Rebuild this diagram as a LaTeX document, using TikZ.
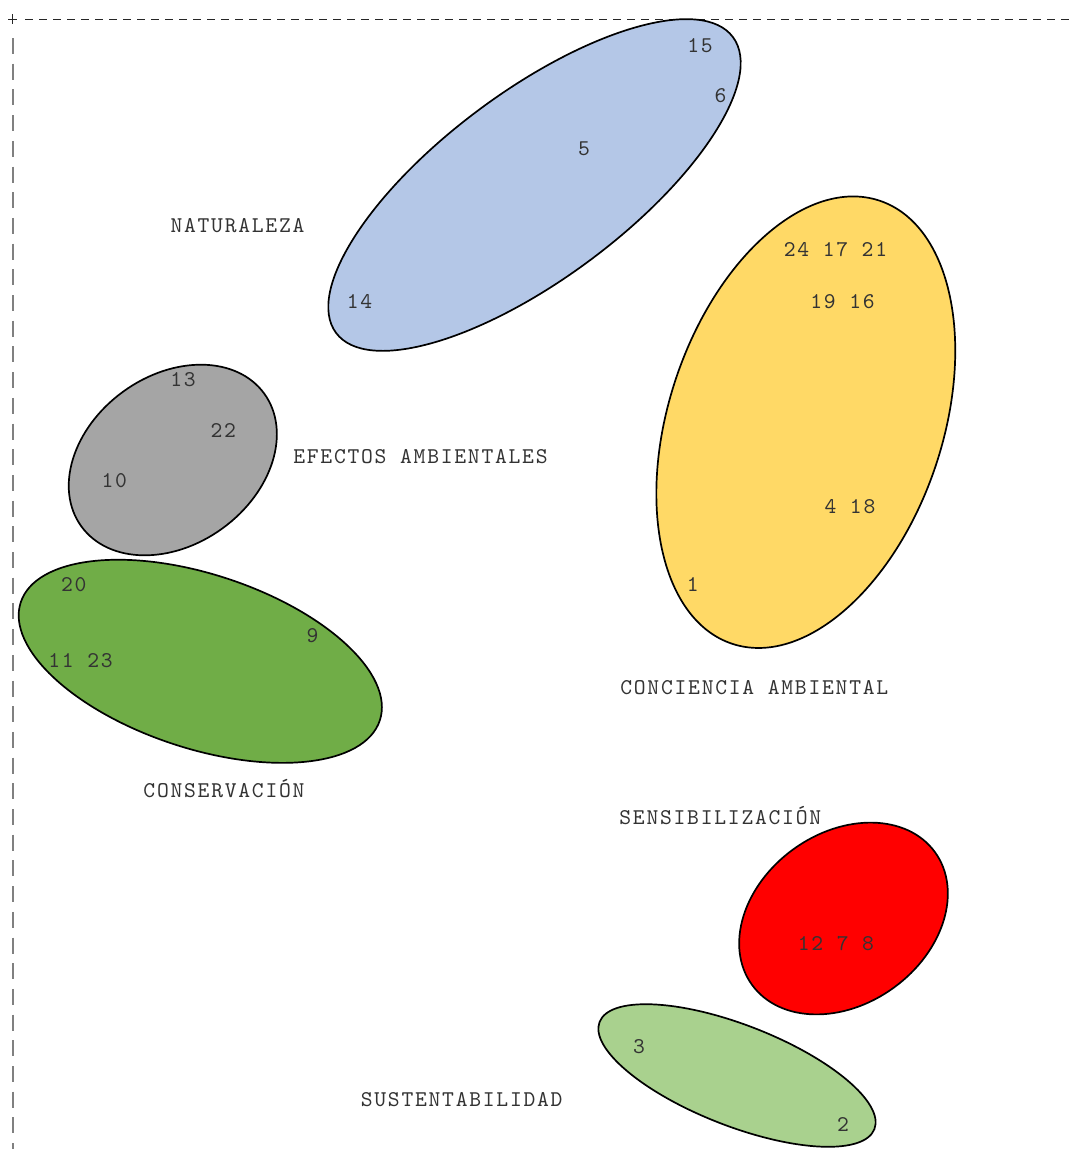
\documentclass[tikz,border=0pt]{standalone}
\usepackage{fontspec}
\usepackage{tikz}
\usetikzlibrary{shapes.geometric}
\definecolor{natblue}{HTML}{B4C7E7}
\definecolor{concyellow}{HTML}{FFD966}
\definecolor{efgray}{HTML}{A5A5A5}
\definecolor{consgreen}{HTML}{70AD47}
\definecolor{sensred}{HTML}{FF0000}
\definecolor{sustgreen}{HTML}{A9D18E}
\definecolor{axisgray}{HTML}{808080}
\newfontfamily\tagfamily{lmmono10-regular.otf}[LetterSpace=7.8]
\newcommand\tagfont{\fontsize{22.5}{24}\selectfont\tagfamily}
\tikzset{
  blob/.style={ellipse,draw=black,line width=1.7pt,inner sep=0pt},
  member/.style={font=\tagfont,text=black!80,inner sep=0pt},
  heading/.style={font=\tagfont,text=black!80,inner sep=0pt,anchor=base},
}

\begin{document}
\begin{tikzpicture}[x=1pt,y=-1pt]
\useasboundingbox[fill=white] (0,0) rectangle (1069,1149);
% frame
\draw[axisgray,line width=1.8pt,dash pattern=on 16pt off 9.7pt] (12.7,38) -- (12.7,1149);
\draw[black!85,line width=1.3pt,dash pattern=on 7.5pt off 6.5pt] (25,19.3) -- (1069,19.3);
\draw[black!85,line width=1.3pt] (8.3,19.3) -- (17.3,19.3) (12.7,14) -- (12.7,24.3);

% groups
\node[blob,fill=natblue,minimum width=495pt,minimum height=187pt,rotate=36.7] (naturaleza) at (534.5,185) {};
\node[blob,fill=concyellow,minimum width=467pt,minimum height=274pt,rotate=71.6] (conciencia) at (805.8,422.2) {};
\node[blob,fill=consgreen,minimum width=378pt,minimum height=174pt,rotate=-18.2] (conservacion) at (200.3,661.3) {};
\node[blob,fill=efgray,minimum width=226pt,minimum height=169pt,rotate=36] (efectos) at (172.8,460) {};
\node[blob,fill=sensred,minimum width=226pt,minimum height=171pt,rotate=36] (sensibilizacion) at (843.5,918.5) {};
\node[blob,fill=sustgreen,minimum width=295pt,minimum height=101pt,rotate=-21.3] (sustentabilidad) at (737,1075.5) {};

% members
\node[member] (m15) at (700,45.5) {15};
\node[member] (m6) at (720.5,96) {6};
\node[member] (m5) at (584,148.5) {5};
\node[member] (m14) at (359.5,301) {14};
\node[member] (m24) at (835.5,250) {24 17 21};
\node[member] (m19) at (842.5,301.3) {19 16};
\node[member] (m4) at (850,507) {4 18};
\node[member] (m1) at (692.8,584) {1};
\node[member] (m13) at (183,379.3) {13};
\node[member] (m22) at (223.3,430) {22};
\node[member] (m10) at (114.2,481) {10};
\node[member] (m20) at (73.8,584.3) {20};
\node[member] (m9) at (312.5,636) {9};
\node[member] (m11) at (80.5,661) {11 23};
\node[member] (m12) at (836,944) {12 7 8};
\node[member] (m3) at (639,1047) {3};
\node[member] (m2) at (843,1124) {2};

% group names
\node[heading] (tnat) at (237.5,232.7) {NATURALEZA};
\node[heading] (tefe) at (420.5,463.3) {EFECTOS AMBIENTALES};
\node[heading] (tcon) at (754.3,694) {CONCIENCIA AMBIENTAL};
\node[heading] (tcons) at (224,797) {CONSERVACIÓN};
\node[heading] (tsen) at (720.3,824) {SENSIBILIZACIÓN};
\node[heading] (tsus) at (461.7,1106.7) {SUSTENTABILIDAD};
\end{tikzpicture}
\end{document}
